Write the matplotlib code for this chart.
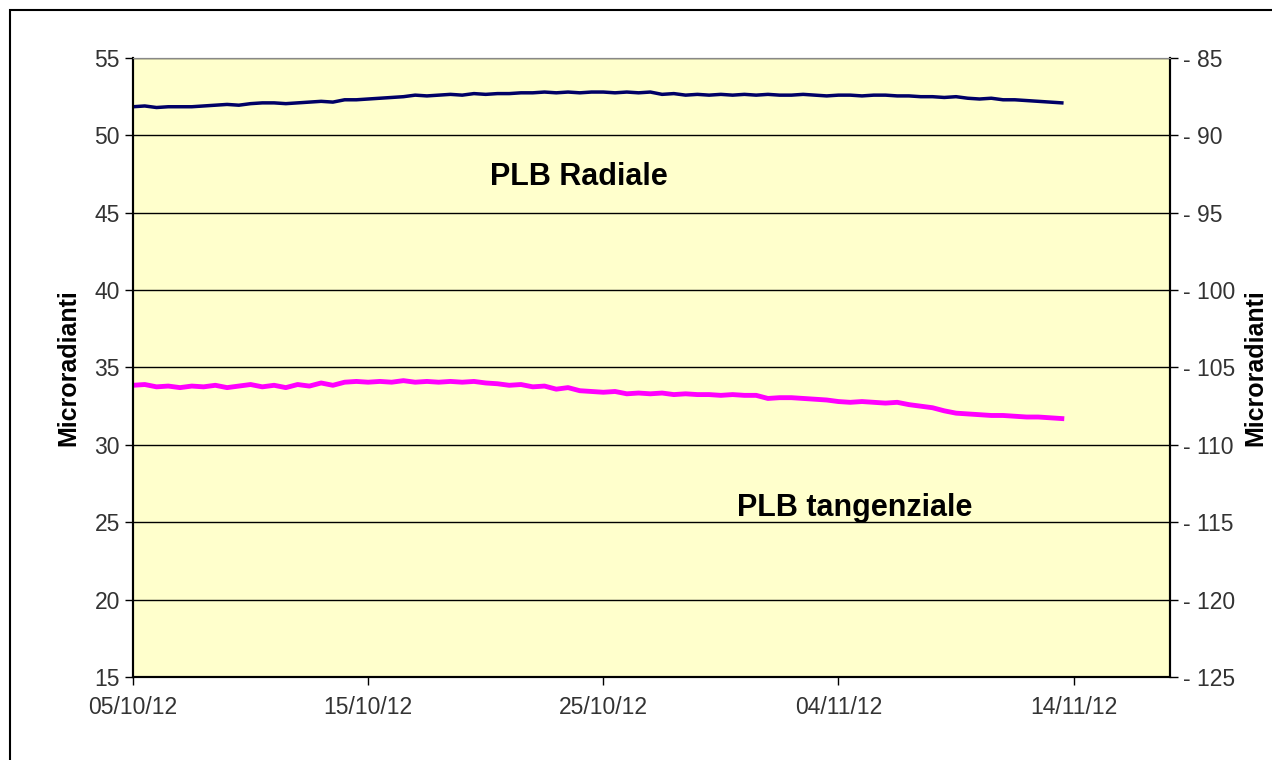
import datetime as dt
import matplotlib
matplotlib.use('Agg')
import matplotlib.pyplot as plt
import matplotlib.dates as mdates
from matplotlib.patches import Rectangle

# half-day samples starting 05/10/12
start = dt.datetime(2012, 10, 5)
n_points = 80
dates = [start + dt.timedelta(hours=12 * i) for i in range(n_points)]

radiale = [
    51.85, 51.9, 51.8, 51.85, 51.85, 51.85, 51.9, 51.95, 52.0, 51.95,
    52.05, 52.1, 52.1, 52.05, 52.1, 52.15, 52.2, 52.15, 52.3, 52.3,
    52.35, 52.4, 52.45, 52.5, 52.6, 52.55, 52.6, 52.65, 52.6, 52.7,
    52.65, 52.7, 52.7, 52.75, 52.75, 52.8, 52.75, 52.8, 52.75, 52.8,
    52.8, 52.75, 52.8, 52.75, 52.8, 52.65, 52.7, 52.6, 52.65, 52.6,
    52.65, 52.6, 52.65, 52.6, 52.65, 52.6, 52.6, 52.65, 52.6, 52.55,
    52.6, 52.6, 52.55, 52.6, 52.6, 52.55, 52.55, 52.5, 52.5, 52.45,
    52.5, 52.4, 52.35, 52.4, 52.3, 52.3, 52.25, 52.2, 52.15, 52.1,
]

tangenziale = [
    33.85, 33.9, 33.75, 33.8, 33.7, 33.8, 33.75, 33.85, 33.7, 33.8,
    33.9, 33.75, 33.85, 33.7, 33.9, 33.8, 34.0, 33.85, 34.05, 34.1,
    34.05, 34.1, 34.05, 34.15, 34.05, 34.1, 34.05, 34.1, 34.05, 34.1,
    34.0, 33.95, 33.85, 33.9, 33.75, 33.8, 33.6, 33.7, 33.5, 33.45,
    33.4, 33.45, 33.3, 33.35, 33.3, 33.35, 33.25, 33.3, 33.25, 33.25,
    33.2, 33.25, 33.2, 33.2, 33.0, 33.05, 33.05, 33.0, 32.95, 32.9,
    32.8, 32.75, 32.8, 32.75, 32.7, 32.75, 32.6, 32.5, 32.4, 32.2,
    32.05, 32.0, 31.95, 31.9, 31.9, 31.85, 31.8, 31.8, 31.75, 31.7,
]

left_ticks = [15, 20, 25, 30, 35, 40, 45, 50, 55]
right_ticks = [-125, -120, -115, -110, -105, -100, -95, -90, -85]
x_ticks = [dt.datetime(2012, 10, 5), dt.datetime(2012, 10, 15), dt.datetime(2012, 10, 25),
           dt.datetime(2012, 11, 4), dt.datetime(2012, 11, 14)]

plt.rcParams['font.family'] = ['Liberation Sans', 'DejaVu Sans']

fig = plt.figure(figsize=(12.72, 7.6), dpi=100)
fig.patches.append(Rectangle((10 / 1272, -0.05), 1.2, 0.05 + 750 / 760, transform=fig.transFigure,
                             fill=False, edgecolor='black', linewidth=1.5))

ax = fig.add_axes([133 / 1272, 83 / 760, 1037 / 1272, 619 / 760])
ax.set_facecolor('#FFFFCC')

ax.set_ylim(15, 55)
ax.set_yticks(left_ticks)
ax.yaxis.grid(True, color='black', linewidth=1)
ax.set_axisbelow(True)

ax.plot(dates, radiale, color='#000066', linewidth=2.5)
ax.plot(dates, tangenziale, color='#FF00FF', linewidth=3.5)

ax.set_xlim(start, start + dt.timedelta(days=44.1))
ax.set_xticks(x_ticks)
ax.xaxis.set_major_formatter(mdates.DateFormatter('%d/%m/%y'))

ax2 = ax.twinx()
ax2.set_ylim(-125, -85)
ax2.set_yticks(right_ticks)
ax2.set_yticklabels([f"- {abs(v)}" for v in right_ticks])

for a in (ax, ax2):
    a.tick_params(direction='out', length=6, width=1, labelsize=16.5, colors='black', labelcolor='#333333')
    a.spines['top'].set_color('#888888')
    a.spines['left'].set_linewidth(1.5)
    a.spines['right'].set_linewidth(1.5)
    a.spines['bottom'].set_linewidth(1.5)

ax.tick_params(axis='x', pad=8)
ax.set_ylabel('Microradianti', fontsize=18, fontweight='bold', labelpad=10)
ax2.set_ylabel('Microradianti', fontsize=18, fontweight='bold', labelpad=6)

ax.text(dt.datetime(2012, 10, 5) + dt.timedelta(days=(579 - 133) / 23.5), 47.3, 'PLB Radiale',
        fontsize=22, fontweight='bold', ha='center', va='center')
ax.text(dt.datetime(2012, 10, 5) + dt.timedelta(days=(854 - 133) / 23.5), 25.9, 'PLB tangenziale',
        fontsize=22, fontweight='bold', ha='center', va='center')

fig.savefig('out.png', dpi=100)
